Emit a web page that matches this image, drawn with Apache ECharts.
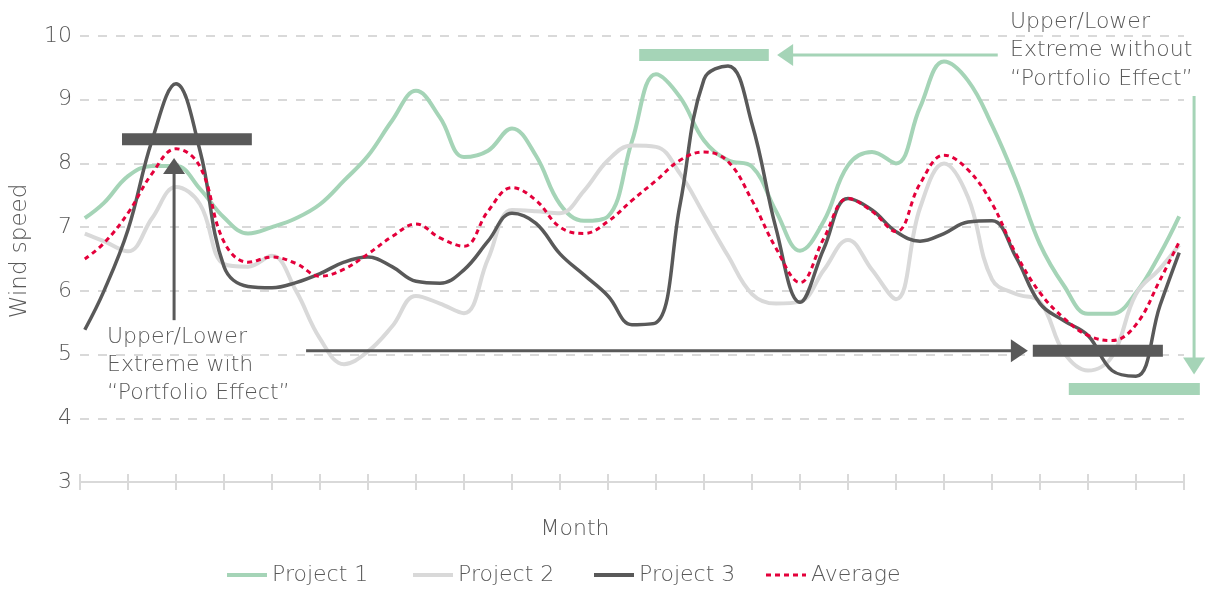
<!DOCTYPE html>
<html>
<head>
<meta charset="utf-8">
<script src="https://cdn.jsdelivr.net/npm/echarts@6/dist/echarts.min.js"></script>
<style>html,body{margin:0;padding:0;background:#fff;}#c{width:1207px;height:592px;}</style>
</head>
<body>
<div id="c"></div>
<script>
// ---- data ----
const months = [0.1,0.5,1,1.5,2,2.5,3,3.5,4,4.5,5,5.5,6,6.5,7,7.5,8,8.5,9,9.5,10,10.5,11,11.5,12,12.5,13,13.5,14,14.5,15,15.5,16,16.5,17,17.5,18,18.5,19,19.5,20,20.5,21,21.5,22,22.5,22.9];
const project1 = [7.14,7.38,7.8,7.96,7.96,7.6,7.15,6.9,7.0,7.14,7.36,7.73,8.12,8.67,9.14,8.72,8.1,8.2,8.55,8.12,7.36,7.1,7.17,8.35,9.4,9.04,8.36,8.05,7.95,7.25,6.63,7.1,7.97,8.18,8.0,8.88,9.6,9.3,8.6,7.73,6.73,6.08,5.64,5.64,5.97,6.58,7.17];
const project2 = [6.9,6.78,6.62,7.14,7.63,7.36,6.42,6.38,6.55,6.0,5.25,4.85,5.05,5.44,5.92,5.8,5.65,6.5,7.27,7.25,7.22,7.57,8.05,8.28,8.26,7.84,7.2,6.55,5.95,5.8,5.83,6.33,6.8,6.33,5.87,7.3,8.0,7.47,6.18,5.95,5.83,5.03,4.75,4.97,5.95,6.35,6.72];
const project3 = [5.39,6.0,6.96,8.36,9.25,8.2,6.38,6.07,6.05,6.13,6.27,6.45,6.53,6.38,6.15,6.12,6.33,6.78,7.22,7.06,6.58,6.25,5.92,5.47,5.5,7.35,9.32,9.53,8.62,6.98,5.82,6.67,7.45,7.27,6.93,6.78,6.9,7.08,7.1,6.53,5.8,5.53,5.3,4.75,4.66,5.77,6.6];
const average  = [6.5,6.75,7.22,7.84,8.23,7.95,6.77,6.45,6.53,6.43,6.23,6.34,6.58,6.85,7.05,6.83,6.7,7.25,7.62,7.42,7.0,6.9,7.09,7.42,7.73,8.05,8.18,8.03,7.42,6.67,6.13,6.83,7.45,7.25,6.93,7.68,8.13,7.9,7.37,6.58,5.97,5.57,5.3,5.22,5.47,6.17,6.77];
const seriesNames = ['Project 1','Project 2','Project 3','Average'];
const yTicks = [3,4,5,6,7,8,9,10];
// extreme bars: [xStart, xEnd, level]
const extremeWith    = [[0.875, 3.58, 8.38], [19.85, 22.56, 5.06]];
const extremeWithout = [[11.65, 14.35, 9.70], [20.6, 23.33, 4.46]];
// arrows: [xFrom, yFrom, xTo, yTo]
const arrowWithUp      = [1.96, 5.54, 1.96, 7.96];
const arrowWithRight   = [4.71, 5.06, 19.57, 5.06];
const arrowWithoutLeft = [19.12, 9.70, 14.69, 9.70];
const arrowWithoutDown = [23.21, 9.06, 23.21, 4.82];
const noteWith    = 'Upper/Lower\nExtreme with\n\u201cPortfolio Effect\u201d';
const noteWithout = 'Upper/Lower\nExtreme without\n\u201cPortfolio Effect\u201d';

// ---- style ----
const GREEN = '#a5d4b7', LGRAY = '#d9d9d9', DGRAY = '#595959', RED = '#e4003b';
const FONT = '"DejaVu Sans", sans-serif';
const TXT = '#595959';
const W = 1207, GL = 80, GR = 23;
const xMaxWide = 23 * (W - GL) / (W - GL - GR); // annotation grid spans to the right edge

function pairs(ys){ return months.map((m,i)=>[m, ys[i]]); }
function barSeries(b, color){
  return {type:'line', xAxisIndex:2, yAxisIndex:1, data:[[b[0],b[2]],[b[1],b[2]]], symbol:'none', clip:false, silent:true, z:5,
    lineStyle:{color:color, width:12, cap:'butt'}};
}
const TRI = {
  up: 'path://M1,0L2,2L0,2Z', down: 'path://M0,0L2,0L1,2Z',
  left: 'path://M0,1L2,0L2,2Z', right: 'path://M0,0L2,1L0,2Z'
};
function arrowSeries(a, color, dir, size){
  return {type:'line', xAxisIndex:2, yAxisIndex:1, clip:false, silent:true, z:6, symbolKeepAspect:false,
    data:[{value:[a[0],a[1]], symbol:'none'}, {value:[a[2],a[3]], symbol:TRI[dir], symbolSize:size}],
    itemStyle:{color:color, opacity:1}, lineStyle:{color:color, width:3}};
}
const legendIcons = [
  'path://M0,0H40V4H0Z', 'path://M0,0H40V4H0Z', 'path://M0,0H40V4H0Z',
  'path://M0,0H5V3H0ZM9,0H14V3H9ZM18,0H23V3H18ZM27,0H32V3H27ZM36,0H40V3H36Z'
];
const legendLefts = [227, 413, 594, 766];

const chart = echarts.init(document.getElementById('c'), null, {renderer:'canvas'});
const xCommon = {type:'value', min:0, max:23, interval:1, axisLabel:{show:false}, splitLine:{show:false}};
chart.setOption({
  animation:false,
  textStyle:{fontFamily:FONT},
  grid:[
    {left:GL, right:GR, top:36, bottom:110},
    {left:GL, right:0, top:36, bottom:110}
  ],
  legend: seriesNames.map((n,i)=>({
    data:[{name:n, icon:legendIcons[i]}], left:legendLefts[i], top:564, padding:0,
    itemWidth:40, itemHeight:4, selectedMode:false,
    textStyle:{fontFamily:FONT, fontSize:22, color:TXT, fontWeight:200}
  })),
  xAxis:[
    Object.assign({}, xCommon, {
      gridIndex:0,
      name:'Month', nameLocation:'middle', nameGap:36,
      nameTextStyle:{fontFamily:FONT, fontSize:22, color:TXT, fontWeight:200, padding:[0,114,0,0]},
      axisLine:{show:true, lineStyle:{color:LGRAY, width:2}},
      axisTick:{show:true, inside:false, length:8, lineStyle:{color:LGRAY, width:2}}
    }),
    Object.assign({}, xCommon, {
      gridIndex:0, position:'bottom', axisLine:{show:false},
      axisTick:{show:true, inside:true, length:8, lineStyle:{color:LGRAY, width:2}}
    }),
    {type:'value', gridIndex:1, min:0, max:xMaxWide, show:false}
  ],
  yAxis:[{
    type:'value', gridIndex:0, min:yTicks[0], max:yTicks[yTicks.length-1], interval:1,
    name:'Wind speed', nameLocation:'middle', nameGap:48,
    nameTextStyle:{fontFamily:FONT, fontSize:23, color:TXT, fontWeight:200, padding:[0,0,0,16]},
    axisLine:{show:false}, axisTick:{show:false},
    axisLabel:{fontFamily:FONT, fontSize:22, color:TXT, fontWeight:200, margin:8},
    splitLine:{show:true, lineStyle:{color:LGRAY, width:2, type:[9,9]}}
  },{
    type:'value', gridIndex:1, min:yTicks[0], max:yTicks[yTicks.length-1], show:false
  }],
  series:[
    {name:'Project 1', type:'line', data:pairs(project1), smooth:0.4, symbol:'none', lineStyle:{color:GREEN, width:4}, itemStyle:{color:GREEN}},
    {name:'Project 2', type:'line', data:pairs(project2), smooth:0.4, symbol:'none', lineStyle:{color:LGRAY, width:4}, itemStyle:{color:LGRAY}},
    {name:'Project 3', type:'line', data:pairs(project3), smooth:0.4, symbol:'none', lineStyle:{color:DGRAY, width:3.5}, itemStyle:{color:DGRAY}},
    {name:'Average', type:'line', data:pairs(average), smooth:0.4, symbol:'none', lineStyle:{color:RED, width:3, type:[5,4]}, itemStyle:{color:RED}},
    barSeries(extremeWith[0], DGRAY),
    barSeries(extremeWith[1], DGRAY),
    barSeries(extremeWithout[0], GREEN),
    barSeries(extremeWithout[1], GREEN),
    arrowSeries(arrowWithUp, DGRAY, 'up', [22,16]),
    arrowSeries(arrowWithRight, DGRAY, 'right', [17,23]),
    arrowSeries(arrowWithoutLeft, GREEN, 'left', [16,22]),
    arrowSeries(arrowWithoutDown, GREEN, 'down', [22,17])
  ],
  graphic:[
    {type:'text', left:107, top:323, silent:true, style:{text:noteWith, font:'200 22px "DejaVu Sans"', fill:TXT, lineHeight:28}},
    {type:'text', left:1010, top:8, silent:true, style:{text:noteWithout, font:'200 22px "DejaVu Sans"', fill:TXT, lineHeight:28.5}}
  ]
});
</script>
</body>
</html>
